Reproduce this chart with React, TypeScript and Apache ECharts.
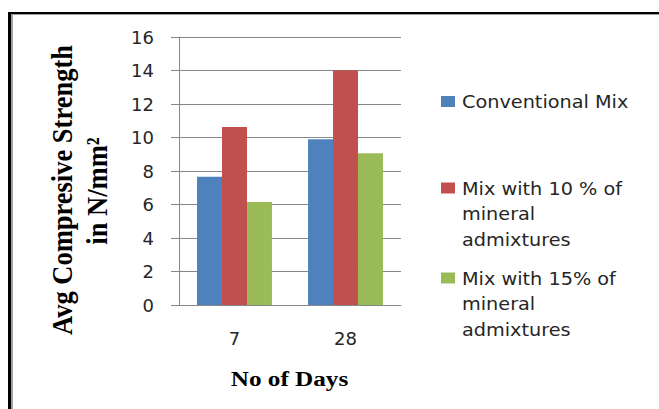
import React, { useEffect, useRef } from "react";
import * as echarts from "echarts";

// Curing age (days) on the category axis
const days = ["7", "28"];

// Average compressive strength in N/mm² for each mix
const conventionalMix = [7.66, 9.89];
const mix10Percent = [10.63, 14.01];
const mix15Percent = [6.15, 9.06];

// Legend entries (wrapped as they are printed beside the plot)
const seriesNames = ["Conventional Mix", "Mix with 10 % of", "Mix with 15% of"];
const legendLabels = [
  "Conventional Mix",
  "Mix with 10 % of\nmineral\nadmixtures",
  "Mix with 15% of\nmineral\nadmixtures",
];

// Value axis range
const yMin = 0;
const yMax = 16;
const yStep = 2;

const palette = ["#4F81BD", "#C0504D", "#9BBB59"];
const sansFont = '"DejaVu Sans", sans-serif';
const serifFont = '"Liberation Serif", "Times New Roman", serif';

export default function App() {
  const ref = useRef<HTMLDivElement>(null);

  useEffect(() => {
    if (!ref.current) return;
    const chart = echarts.init(ref.current, undefined, { renderer: "svg" });

    const values = [conventionalMix, mix10Percent, mix15Percent];
    const legendTops = [89, 175.5, 265.5];

    const legendGraphics: any[] = [];
    legendLabels.forEach((label, i) => {
      legendGraphics.push({
        type: "rect",
        shape: { x: 441, y: legendTops[i] + 7, width: 14, height: 11 },
        style: { fill: palette[i] },
      });
      legendGraphics.push({
        type: "text",
        x: 462,
        y: legendTops[i],
        scaleX: 1.07,
        style: {
          text: label,
          font: `18px ${sansFont}`,
          fill: "#262626",
          align: "left",
          verticalAlign: "top",
          lineHeight: 25.5,
        },
      });
    });

    chart.setOption({
      animation: false,
      backgroundColor: "#ffffff",
      grid: { left: 179, right: 258, top: 37, bottom: 104 },
      xAxis: {
        type: "category",
        data: days,
        axisLine: { lineStyle: { color: "#868686", width: 1 } },
        axisTick: { show: false },
        axisLabel: {
          margin: 24,
          color: "#262626",
          fontFamily: sansFont,
          fontSize: 18,
        },
      },
      yAxis: {
        type: "value",
        min: yMin,
        max: yMax,
        interval: yStep,
        axisLine: { show: true, lineStyle: { color: "#868686", width: 1 } },
        axisTick: { show: true, length: 8, lineStyle: { color: "#868686" } },
        splitLine: { lineStyle: { color: "#868686", width: 1 } },
        axisLabel: {
          margin: 25,
          color: "#262626",
          fontFamily: sansFont,
          fontSize: 18,
        },
      },
      series: values.map((data, i) => ({
        name: seriesNames[i],
        type: "bar",
        data,
        barWidth: "22.5%",
        barGap: "0%",
        barCategoryGap: "33%",
        itemStyle: { color: palette[i] },
      })),
      graphic: [
        // frame around the figure
        {
          type: "line",
          shape: { x1: 8, y1: 13, x2: 659, y2: 13 },
          style: { stroke: "#000000", lineWidth: 2 },
        },
        {
          type: "line",
          shape: { x1: 8, y1: 14.5, x2: 659, y2: 14.5 },
          style: { stroke: "#9a9a9a", lineWidth: 1 },
        },
        {
          type: "line",
          shape: { x1: 9.5, y1: 12, x2: 9.5, y2: 409 },
          style: { stroke: "#000000", lineWidth: 3 },
        },
        {
          type: "line",
          shape: { x1: 12, y1: 14, x2: 12, y2: 409 },
          style: { stroke: "#a0a0a0", lineWidth: 2 },
        },
        // value axis title
        {
          type: "text",
          x: 62,
          y: 190,
          rotation: Math.PI / 2,
          scaleY: 1.14,
          style: {
            text: "Avg Compresive Strength",
            font: `bold 26.5px ${serifFont}`,
            fill: "#000000",
            align: "center",
            verticalAlign: "middle",
          },
        },
        {
          type: "text",
          x: 97,
          y: 191,
          rotation: Math.PI / 2,
          scaleY: 1.14,
          style: {
            text: "in N/mm²",
            font: `bold 26.5px ${serifFont}`,
            fill: "#000000",
            align: "center",
            verticalAlign: "middle",
          },
        },
        // category axis title
        {
          type: "text",
          x: 289.5,
          y: 379,
          scaleX: 1.26,
          style: {
            text: "No of Days",
            font: `bold 20px ${serifFont}`,
            fill: "#000000",
            align: "center",
            verticalAlign: "middle",
          },
        },
        ...legendGraphics,
      ],
    });

    return () => {
      chart.dispose();
    };
  }, []);

  return (
    <div
      ref={ref}
      style={{
        position: "fixed",
        left: 0,
        top: 0,
        width: 659,
        height: 409,
        background: "#ffffff",
      }}
    />
  );
}
